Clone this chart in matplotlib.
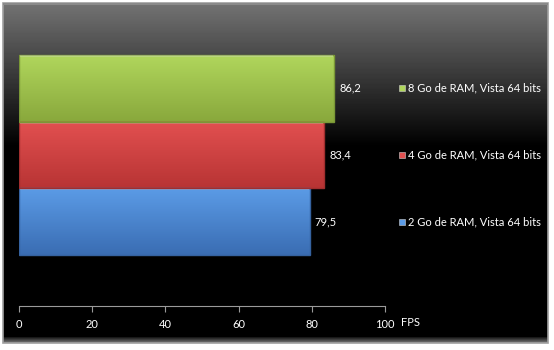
import numpy as np
import matplotlib.pyplot as plt
from matplotlib.patches import Rectangle
import matplotlib.transforms as mtransforms

plt.rcParams['font.family'] = ['Lato', 'DejaVu Sans']

labels = ['2 Go de RAM, Vista 64 bits', '4 Go de RAM, Vista 64 bits', '8 Go de RAM, Vista 64 bits']
values = [79.5, 83.4, 86.2]
value_text = ['79,5', '83,4', '86,2']
top_colors = ['#5b9be6', '#e25050', '#b0d65c']
bottom_colors = ['#3a6db3', '#b83434', '#89a83c']
edge_colors = ['#35629f', '#a02e2e', '#7a9836']
ticks = [0, 20, 40, 60, 80, 100]

W, H = 554, 350
fig = plt.figure(figsize=(W / 100, H / 100), dpi=100)
fig.patch.set_facecolor('white')

# background frame with gradient
bg = fig.add_axes([0, 0, 1, 1])
bg.set_xlim(0, W)
bg.set_ylim(H, 0)
bg.axis('off')
frame = Rectangle((3, 3), 545, 340, facecolor='none', edgecolor='#a0a0a0', lw=1.2)
bg.add_patch(frame)
rows = np.linspace(0, 1, 340)
shade = np.clip(0.45 * (1 - rows / 0.42), 0, 1)
shade[-6:] = np.linspace(0.1, 0.45, 6)
img = np.repeat(shade[:, None], 10, axis=1)
bg.imshow(img, cmap='gray', vmin=0, vmax=1, extent=[3, 548, 343, 3], aspect='auto', zorder=0)
bg.add_patch(Rectangle((3, 3), 545, 2, facecolor='#8a8a8a', edgecolor='none', zorder=1))

# main axes: x 0 -> pixel 19, 100 -> pixel 385; y from pixel 306 (bottom) to 22 (top)
x0, x1 = 19, 385
yb, yt = 306, 22
ax = fig.add_axes([x0 / W, (H - yb) / H, (x1 - x0) / W, (yb - yt) / H])
ax.set_facecolor('none')
ax.set_xlim(0, 100)

pos = np.arange(len(values))
bars = ax.barh(pos, values, height=1.0, color='none', edgecolor='none')
for b, c0, c1, ec in zip(bars, top_colors, bottom_colors, edge_colors):
    x, y, w, h = b.get_x(), b.get_y(), b.get_width(), b.get_height()
    cmap = plt.matplotlib.colors.LinearSegmentedColormap.from_list('g', [c1, c0])
    grad = np.linspace(0, 1, 64)[:, None]
    im = ax.imshow(grad, cmap=cmap, extent=[x, x + w, y, y + h], aspect='auto',
                   origin='lower', zorder=2)
    im.set_clip_path(b)
    ax.add_patch(Rectangle((x, y), w, h, facecolor='none', edgecolor=ec, lw=1.0, zorder=3))
    ax.add_patch(Rectangle((x + 0.3, y + h - 0.03), w - 0.6, 0.025, facecolor='white',
                           alpha=0.25, edgecolor='none', zorder=3))

for p, v, t in zip(pos, values, value_text):
    ax.text(v + 1.3, p, t, color='white', fontsize=8, va='center', ha='left')

# legend entries
trans = mtransforms.blended_transform_factory(fig.transFigure, ax.transData)
for p, lab, c in zip(pos, labels, top_colors):
    ax.plot([402 / W], [p], marker='s', ms=4.5, color=c, mec='#d0d0d0', mew=0.4,
            transform=trans, clip_on=False)
    ax.text(408.5 / W, p, lab, color='white', fontsize=8, va='center', ha='left', transform=trans)

fig.text(401 / W, (H - 323) / H, 'FPS', color='white', fontsize=8, va='center', ha='left')

ax.set_ylim(-1.261, 2.99)
ax.set_xticks(ticks)
ax.set_xticklabels([str(t) for t in ticks])
ax.tick_params(axis='x', colors='#9a9a9a', direction='out', length=4, width=0.8,
               labelcolor='white', labelsize=8, pad=5)
ax.set_yticks([])
for s in ['top', 'right', 'left']:
    ax.spines[s].set_visible(False)
ax.spines['bottom'].set_color('#9a9a9a')
ax.spines['bottom'].set_linewidth(0.8)

fig.savefig('out.png', dpi=100, facecolor='white')
